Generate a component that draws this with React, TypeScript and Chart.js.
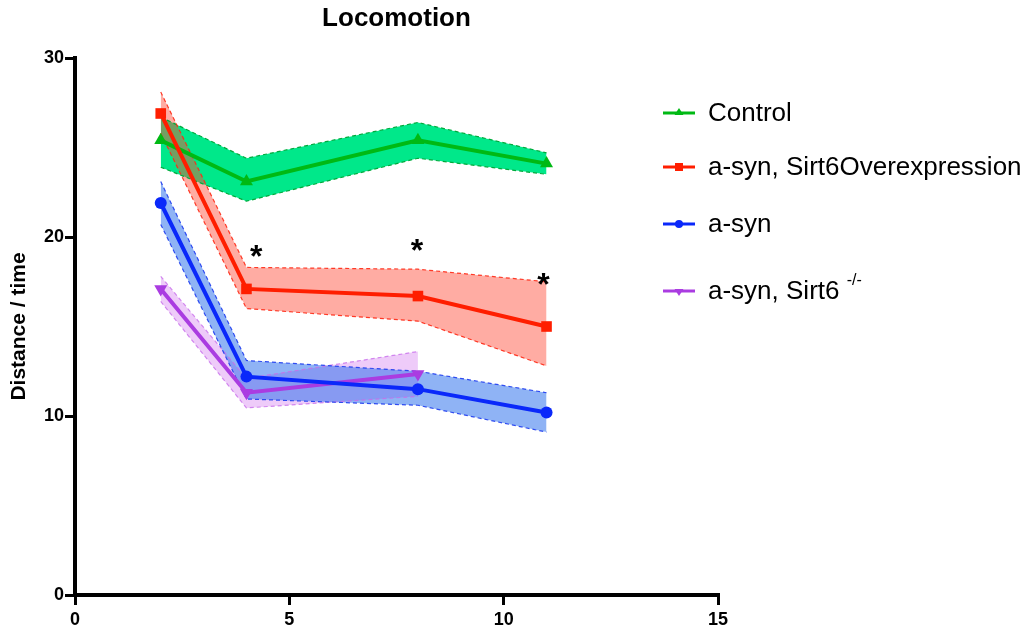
import React, { useEffect, useRef } from 'react';
import { Chart, registerables } from 'chart.js';

Chart.register(...registerables);

const timePoints = [2, 4, 8, 11];
const controlMean = [25.4, 23.1, 25.4, 24.1];
const controlUpper = [26.7, 24.4, 26.4, 24.7];
const controlLower = [23.9, 22.0, 24.4, 23.5];
const overMean = [26.9, 17.1, 16.7, 15.0];
const overUpper = [28.1, 18.3, 18.2, 17.5];
const overLower = [25.8, 16.0, 15.3, 12.8];
const asynMean = [21.9, 12.2, 11.5, 10.2];
const asynUpper = [23.1, 13.1, 12.5, 11.3];
const asynLower = [20.7, 10.95, 10.6, 9.1];
const koTimePoints = [2, 4, 8];
const koMean = [17.1, 11.3, 12.35];
const koUpper = [17.8, 12.1, 13.6];
const koLower = [16.4, 10.45, 11.1];
const starX = [4.23, 7.98, 10.93];
const starY = [19.4, 19.7, 17.8];
const xTicks = [0, 5, 10, 15];
const yTicks = [0, 10, 20, 30];
const legendLabels = ['Control', 'a-syn, Sirt6Overexpression', 'a-syn', 'a-syn, Sirt6'];

const FONT = '"Liberation Sans", Arial, Helvetica, sans-serif';

const pts = (xs: number[], ys: number[]) => xs.map((x, i) => ({ x, y: ys[i] }));

const C_GREEN = 'rgb(0,185,20)';
const C_RED = 'rgb(255,30,0)';
const C_BLUE = 'rgb(10,40,250)';
const C_PURPLE = 'rgb(170,60,225)';

const mainLine = (label: string, xs: number[], ys: number[], color: string, style: any, rot = 0) => ({
  label,
  data: pts(xs, ys),
  borderColor: color,
  backgroundColor: color,
  borderWidth: 4,
  pointStyle: style,
  pointRadius: style === 'circle' ? 6 : 7.5,
  pointRotation: rot,
  pointBorderWidth: 0,
  fill: false,
  tension: 0,
});

const bandEdge = (xs: number[], ys: number[], color: string, fillColor: string | null) => ({
  label: '',
  data: pts(xs, ys),
  borderColor: color,
  borderWidth: 1.2,
  borderDash: [4, 3],
  pointRadius: 0,
  backgroundColor: fillColor || 'transparent',
  fill: fillColor ? '-1' : false,
  tension: 0,
});

const overlayPlugin = {
  id: 'overlay',
  afterDraw(chart: any) {
    const ctx = chart.ctx;
    const xs = chart.scales.x;
    const ys = chart.scales.y;
    ctx.save();
    // title
    ctx.fillStyle = '#000';
    ctx.font = `bold 26px ${FONT}`;
    ctx.textAlign = 'center';
    ctx.textBaseline = 'middle';
    ctx.fillText('Locomotion', (chart.chartArea.left + chart.chartArea.right) / 2, 19);
    // stars
    ctx.font = `bold 32px ${FONT}`;
    for (let i = 0; i < starX.length; i++) {
      ctx.fillText('*', xs.getPixelForValue(starX[i]), ys.getPixelForValue(starY[i]) + 10);
    }
    // legend
    const colors = [C_GREEN, C_RED, C_BLUE, C_PURPLE];
    const styles = ['tri', 'rect', 'circle', 'trid'];
    const ly = [113, 167, 224, 291];
    for (let i = 0; i < 4; i++) {
      const y = ly[i];
      ctx.strokeStyle = colors[i];
      ctx.fillStyle = colors[i];
      ctx.lineWidth = 3;
      ctx.beginPath();
      ctx.moveTo(663, y);
      ctx.lineTo(695, y);
      ctx.stroke();
      const cx = 679;
      ctx.beginPath();
      if (styles[i] === 'tri') {
        ctx.moveTo(cx, y - 5); ctx.lineTo(cx + 4.5, y + 2); ctx.lineTo(cx - 4.5, y + 2);
      } else if (styles[i] === 'trid') {
        ctx.moveTo(cx, y + 5); ctx.lineTo(cx + 4.5, y - 2); ctx.lineTo(cx - 4.5, y - 2);
      } else if (styles[i] === 'rect') {
        ctx.rect(cx - 4, y - 4, 8, 8);
      } else {
        ctx.arc(cx, y, 4, 0, Math.PI * 2);
      }
      ctx.closePath();
      ctx.fill();
      ctx.fillStyle = '#000';
      ctx.font = `26px ${FONT}`;
      ctx.textAlign = 'left';
      ctx.textBaseline = 'middle';
      ctx.fillText(legendLabels[i], 708, y + 1);
      if (i === 3) {
        const w = ctx.measureText(legendLabels[i] + ' ').width;
        ctx.font = `16px ${FONT}`;
        ctx.fillText('-/-', 708 + w, y - 10);
      }
    }
    ctx.restore();
  },
};

export default function App() {
  const ref = useRef<HTMLCanvasElement | null>(null);
  useEffect(() => {
    if (!ref.current) return;
    const chart = new Chart(ref.current, {
      type: 'line',
      data: {
        datasets: [
          mainLine('a-syn, Sirt6Overexpression', timePoints, overMean, C_RED, 'rect'),
          mainLine('a-syn', timePoints, asynMean, C_BLUE, 'circle'),
          mainLine('Control', timePoints, controlMean, C_GREEN, 'triangle'),
          mainLine('a-syn, Sirt6 -/-', koTimePoints, koMean, C_PURPLE, 'triangle', 180),
          bandEdge(timePoints, overUpper, 'rgba(255,40,20,0.9)', null),
          bandEdge(timePoints, overLower, 'rgba(255,40,20,0.9)', 'rgba(255,70,50,0.45)'),
          bandEdge(timePoints, controlUpper, 'rgb(0,170,60)', null),
          bandEdge(timePoints, controlLower, 'rgb(0,170,60)', 'rgb(0,232,138)'),
          bandEdge(timePoints, asynUpper, 'rgba(30,60,240,0.9)', null),
          bandEdge(timePoints, asynLower, 'rgba(30,60,240,0.9)', 'rgba(40,110,235,0.52)'),
          bandEdge(koTimePoints, koUpper, 'rgba(200,110,235,0.8)', null),
          bandEdge(koTimePoints, koLower, 'rgba(200,110,235,0.8)', 'rgba(215,130,240,0.42)'),
        ],
      },
      options: {
        animation: false,
        responsive: false,
        maintainAspectRatio: false,
        layout: { padding: { top: 58, right: 314, left: 0, bottom: 0 } },
        plugins: {
          legend: { display: false },
          title: { display: false },
          tooltip: { enabled: false },
          filler: { drawTime: 'beforeDatasetsDraw' },
        } as any,
        scales: {
          x: {
            type: 'linear',
            min: 0,
            max: 15,
            afterBuildTicks: (s: any) => { s.ticks = xTicks.map((v) => ({ value: v })); },
            afterFit: (s: any) => { s.height = 41; },
            ticks: { color: '#000', font: { family: FONT, size: 18, weight: 'bold' }, padding: 4, maxRotation: 0 },
            grid: { drawOnChartArea: false, drawTicks: true, tickLength: 10, color: '#000', lineWidth: 3 },
            border: { display: true, color: '#000', width: 4 },
          },
          y: {
            type: 'linear',
            min: 0,
            max: 30,
            afterBuildTicks: (s: any) => { s.ticks = yTicks.map((v) => ({ value: v })); },
            afterFit: (s: any) => { s.width = 75; },
            ticks: { color: '#000', font: { family: FONT, size: 18, weight: 'bold' }, padding: 1 },
            grid: { drawOnChartArea: false, drawTicks: true, tickLength: 10, color: '#000', lineWidth: 3 },
            border: { display: true, color: '#000', width: 4 },
            title: {
              display: true,
              text: 'Distance / time',
              color: '#000',
              font: { family: FONT, size: 21, weight: 'bold' },
              padding: { top: 7, bottom: 0 },
            },
          },
        } as any,
      },
      plugins: [overlayPlugin],
    });
    return () => chart.destroy();
  }, []);
  return (
    <div style={{ position: 'absolute', left: 0, top: 0, width: 1032, height: 636, background: '#fff' }}>
      <canvas ref={ref} width={1032} height={636} style={{ display: 'block' }} />
    </div>
  );
}
